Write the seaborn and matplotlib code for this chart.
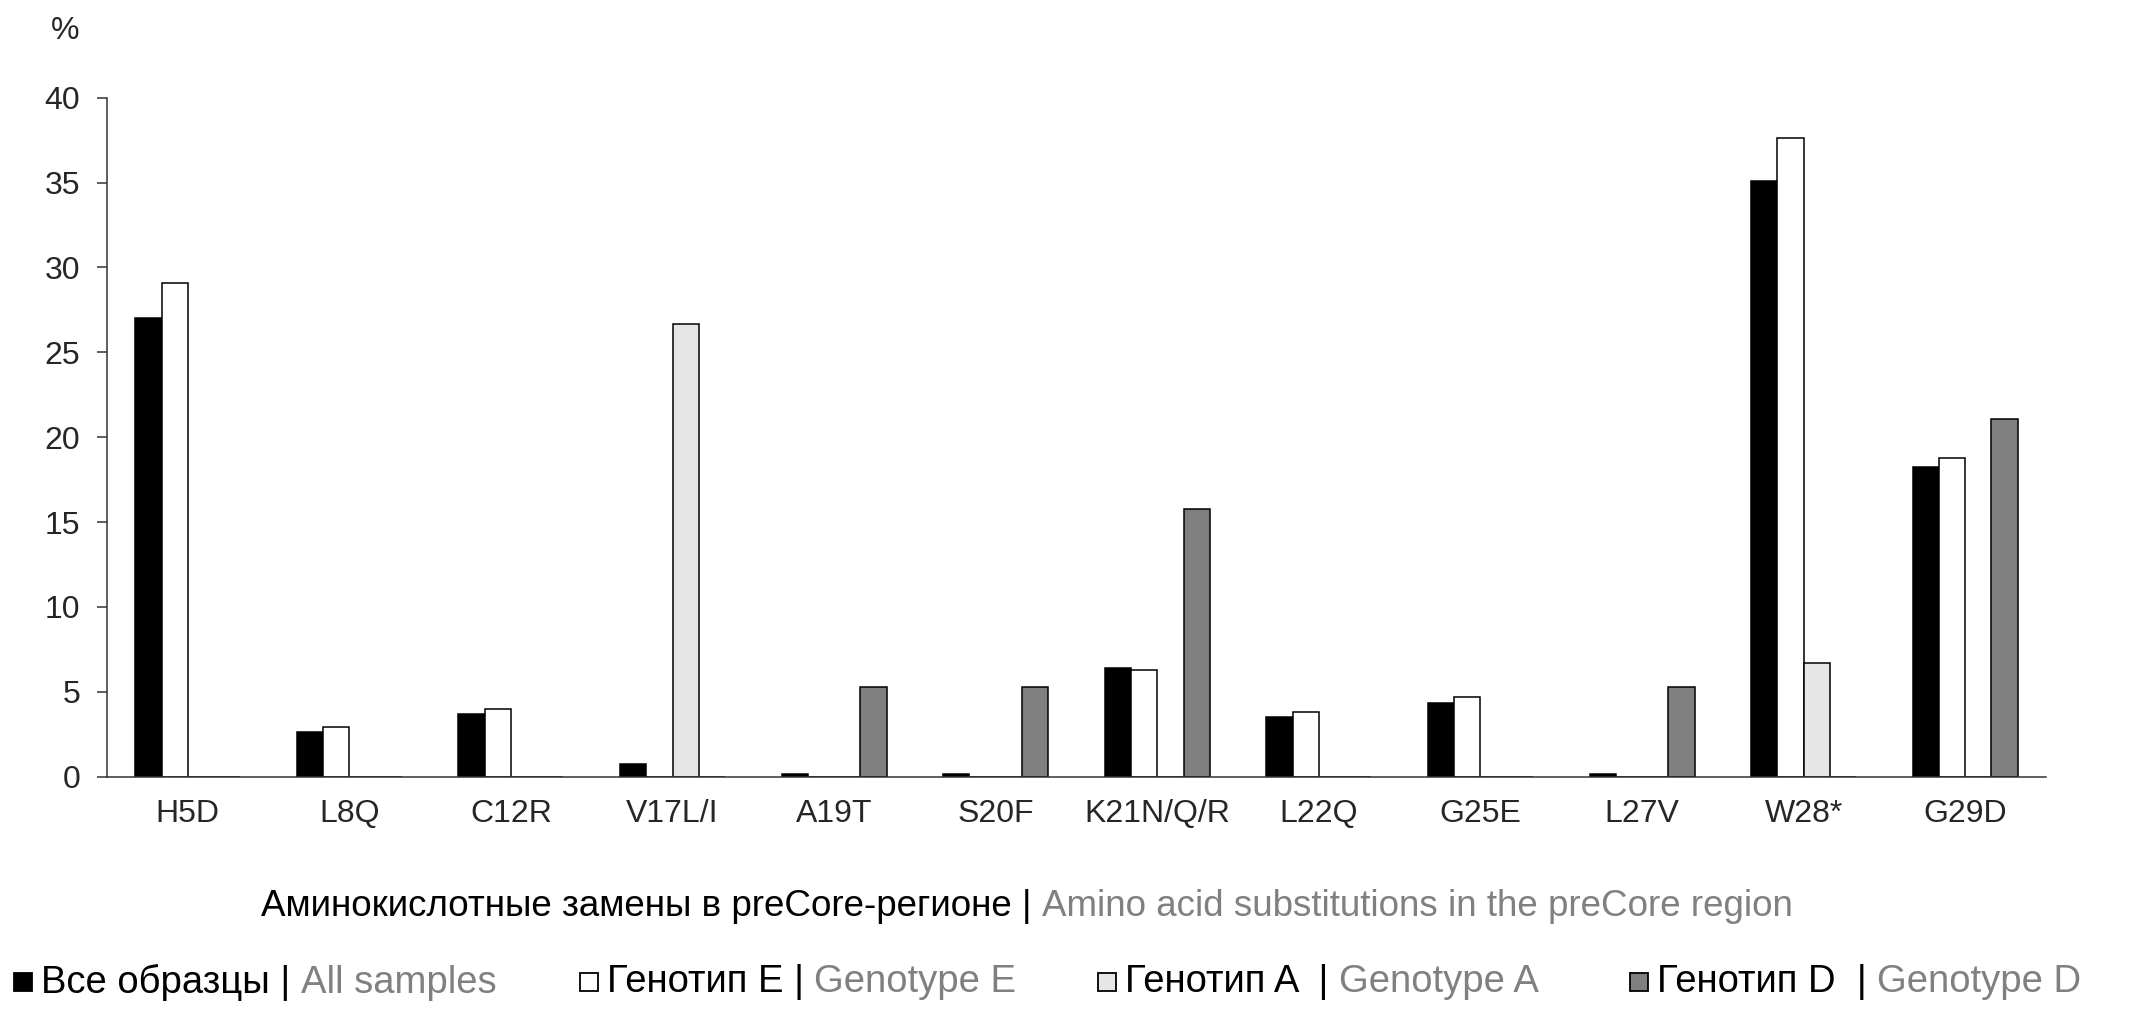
import matplotlib
matplotlib.use('Agg')
import pandas as pd
import seaborn as sns
import matplotlib.pyplot as plt
from matplotlib.offsetbox import HPacker, TextArea, DrawingArea, AnchoredOffsetbox
from matplotlib.patches import Rectangle

# data (% of samples)
categories = ['H5D', 'L8Q', 'C12R', 'V17L/I', 'A19T', 'S20F',
              'K21N/Q/R', 'L22Q', 'G25E', 'L27V', 'W28*', 'G29D']
all_samples = [27.0, 2.65, 3.7, 0.76, 0.15, 0.15, 6.42, 3.51, 4.32, 0.15, 35.12, 18.27]
genotype_e = [29.1, 2.9, 4.0, 0, 0, 0, 6.26, 3.8, 4.72, 0, 37.6, 18.8]
genotype_a = [0, 0, 0, 26.67, 0, 0, 0, 0, 0, 0, 6.67, 0]
genotype_d = [0, 0, 0, 0, 5.26, 5.26, 15.79, 0, 0, 5.26, 0, 21.05]

series_ru = ['Все образцы | ', 'Генотип E | ', 'Генотип A  | ', 'Генотип D  | ']
series_en = ['All samples', 'Genotype E', 'Genotype A', 'Genotype D']
bar_colors = ['#000000', '#ffffff', '#e6e6e6', '#808080']

x_label_ru = 'Аминокислотные замены в preCore-регионе | '
x_label_en = 'Amino acid substitutions in the preCore region'

# long table for seaborn
rows = []
for name, vals in zip(series_en, [all_samples, genotype_e, genotype_a, genotype_d]):
    for c, v in zip(categories, vals):
        rows.append({'cat': c, 'series': name, 'val': v})
df = pd.DataFrame(rows)

sns.set_style('white')
plt.rcParams['font.family'] = ['Liberation Sans', 'DejaVu Sans']

W, H = 2139, 1014
fig = plt.figure(figsize=(W / 100, H / 100), dpi=100)
ax = fig.add_axes([107 / W, 237.3 / H, 1939 / W, 679 / H])

sns.barplot(data=df, x='cat', y='val', hue='series', hue_order=series_en,
            order=categories, palette=dict(zip(series_en, bar_colors)),
            saturation=1, width=0.65, errorbar=None, edgecolor='black',
            linewidth=1.1, legend=False, ax=ax)

ax.set_ylim(0, 40)
ax.set_yticks(range(0, 41, 5))
ax.set_xlabel('')
ax.set_ylabel('')
sns.despine(ax=ax)
for s in ['left', 'bottom']:
    ax.spines[s].set_color('#333333')
    ax.spines[s].set_linewidth(1.1)
ax.tick_params(axis='y', length=7.2, width=1.1, color='#333333', direction='out',
               pad=12, labelsize=23, left=True)
ax.tick_params(axis='x', length=0, pad=16, labelsize=23)

fig.text(65 / W, 1 - 31 / H, '%', ha='center', va='center', fontsize=23)

# x axis title in two colours
xl = HPacker(children=[TextArea(x_label_ru, textprops=dict(color='black', fontsize=26.5)),
                       TextArea(x_label_en, textprops=dict(color='#808080', fontsize=26.5))],
             sep=0, align='baseline')
fig.add_artist(AnchoredOffsetbox(loc='center', child=xl, frameon=False, pad=0, borderpad=0,
                                 bbox_to_anchor=(1027 / W, 1 - 906 / H),
                                 bbox_transform=fig.transFigure))

# legend drawn by hand: marker + black russian + gray english
legend_x = [13, 579, 1097, 1629]
for xpos, ru, en, col in zip(legend_x, series_ru, series_en, bar_colors):
    da = DrawingArea(14, 14, 0, 0)
    da.add_artist(Rectangle((0.5, 0.5), 13, 13, facecolor=col, edgecolor='black', lw=1.3))
    txt = HPacker(children=[TextArea(ru, textprops=dict(color='black', fontsize=27.5)),
                            TextArea(en, textprops=dict(color='#808080', fontsize=27.5))],
                  sep=0, align='baseline')
    box = HPacker(children=[da, txt], sep=6, align='center')
    fig.add_artist(AnchoredOffsetbox(loc='center left', child=box, frameon=False, pad=0,
                                     borderpad=0, bbox_to_anchor=(xpos / W, 1 - 982 / H),
                                     bbox_transform=fig.transFigure))

fig.savefig('out.png', dpi=100)
